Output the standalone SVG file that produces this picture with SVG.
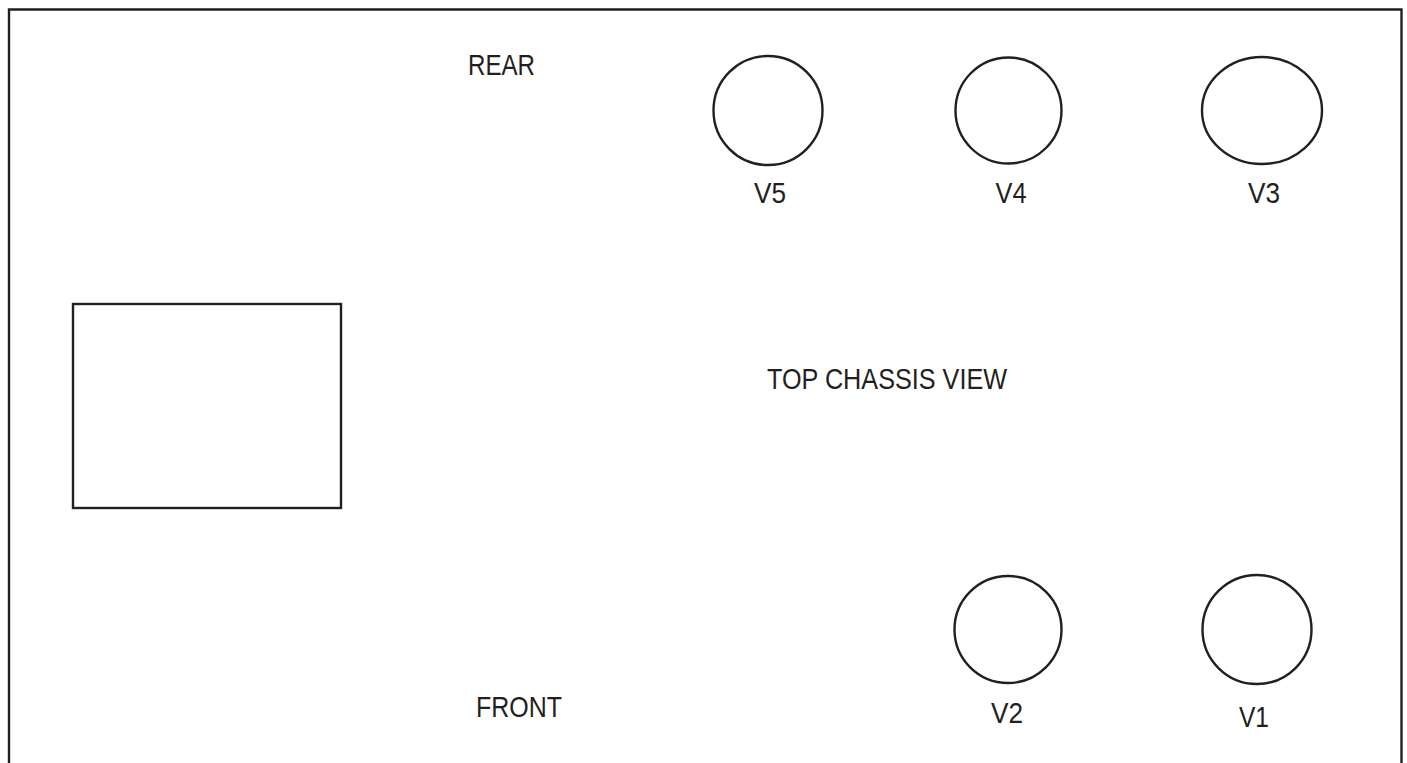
<svg xmlns="http://www.w3.org/2000/svg" width="1407" height="763" viewBox="0 0 1407 763">
<style>
.ln{fill:none;stroke:#231f20;stroke-width:2.4}
.t{font-family:"Liberation Sans",Arial,sans-serif;font-size:30px;fill:#231f20}
.c{text-anchor:middle}
</style>
<rect width="1407" height="763" fill="#fff"/>
<g id="chassis">
<path class="ln" d="M9,770 V9.5 H1401.5 V770"/>
</g>
<g id="transformer"><rect class="ln" x="73" y="304" width="268" height="204"/></g>
<g id="V5"><circle class="ln" cx="768" cy="110.5" r="54.5"/><text class="t c" x="770" y="203" textLength="32" lengthAdjust="spacingAndGlyphs">V5</text></g>
<g id="V4"><circle class="ln" cx="1008.5" cy="110.5" r="53"/><text class="t c" x="1011" y="203" textLength="31" lengthAdjust="spacingAndGlyphs">V4</text></g>
<g id="V3"><ellipse class="ln" cx="1262" cy="110.5" rx="60" ry="53.5"/><text class="t c" x="1264" y="203" textLength="32" lengthAdjust="spacingAndGlyphs">V3</text></g>
<g id="V2"><circle class="ln" cx="1008" cy="629.5" r="53.5"/><text class="t c" x="1007" y="723" textLength="32" lengthAdjust="spacingAndGlyphs">V2</text></g>
<g id="V1"><circle class="ln" cx="1257" cy="629.5" r="54.5"/><text class="t c" x="1254" y="727" textLength="30" lengthAdjust="spacingAndGlyphs">V1</text></g>
<g id="labels">
<text class="t" x="468" y="75" textLength="67" lengthAdjust="spacingAndGlyphs">REAR</text>
<text class="t" x="767" y="389" textLength="240" lengthAdjust="spacingAndGlyphs">TOP CHASSIS VIEW</text>
<text class="t" x="476" y="717" textLength="86" lengthAdjust="spacingAndGlyphs">FRONT</text>
</g>
<g id="connectors"></g>
</svg>
